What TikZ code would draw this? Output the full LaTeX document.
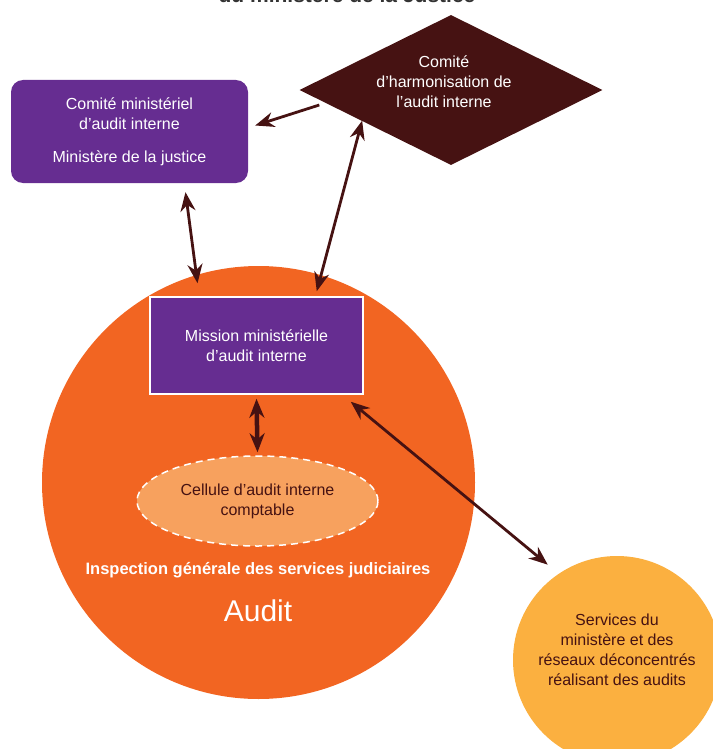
\documentclass[tikz,border=0pt]{standalone}
\usepackage{fontspec}
\setmainfont{Liberation Sans}
\usetikzlibrary{shapes.geometric,arrows.meta}
\definecolor{minpurple}{HTML}{662D91}
\definecolor{darkred}{HTML}{461212}
\definecolor{igsjorange}{HTML}{F26522}
\definecolor{cellorange}{HTML}{F7A15E}
\definecolor{servyellow}{HTML}{FBB040}
\definecolor{titlegray}{HTML}{333333}
\newcommand{\txt}{\fontsize{16}{20}\selectfont}

\begin{document}
\begin{tikzpicture}[x=1pt,y=-1pt,
	box/.style={fill=minpurple,text=white,align=center,font=\txt},
	link/.style={draw=darkred,line width=2.8pt,-{Stealth[length=19pt,width=15pt]}},
	dlink/.style={link,{Stealth[length=19pt,width=15pt]}-{Stealth[length=19pt,width=15pt]}}]
	\useasboundingbox (0,0) rectangle (712,749);
	\node[anchor=base,text=titlegray,font=\bfseries\fontsize{21}{24}\selectfont] (title) at (347,3) {du ministère de la Justice};
	% committees at the top
	\node[box,rounded corners=12pt,minimum width=237pt,minimum height=103pt] (comite) at (129.5,131.5) {Comité ministériel\\d’audit interne\\[13pt]Ministère de la justice};
	\node[diamond,fill=darkred,minimum width=303pt,minimum height=150pt,inner sep=0pt] (harmo) at (451,90) {};
	\node[text=white,align=center,font=\txt] (harmotxt) at (444,82) {Comité\\d’harmonisation de\\l’audit interne};
	% inspection
	\node[circle,fill=igsjorange,minimum size=433pt,inner sep=0pt] (igsj) at (258.5,482.5) {};
	\node[box,draw=white,line width=1.5pt,minimum width=213pt,minimum height=97pt] (mission) at (256.5,345.5) {Mission ministérielle\\d’audit interne};
	\node[ellipse,fill=cellorange,draw=white,line width=1.5pt,dash pattern=on 7pt off 5pt,minimum width=241pt,minimum height=90pt,text=darkred,align=center,font=\txt] (cellule) at (257.5,501) {Cellule d’audit interne\\comptable};
	\node[text=white,font=\bfseries\fontsize{16.5}{18}\selectfont] (igsjtxt) at (258,570) {Inspection générale des services judiciaires};
	\node[text=white,font=\fontsize{30}{34}\selectfont] (audit) at (258,611) {Audit};
	% services
	\node[circle,fill=servyellow,minimum size=208pt,inner sep=0pt] (services) at (617,660) {};
	\node[text=darkred,align=center,font=\txt] (servtxt) at (617,650) {Services du\\ministère et des\\réseaux déconcentrés\\réalisant des audits};
	% links
	\draw[link] ([shift={(20,15)}]harmo.west) -- ([shift={(7,-6)}]comite.east);
	\draw[dlink] ([shift={(56,9)}]comite.south) -- ([shift={(-59,-13)}]mission.north);
	\draw[dlink] ([shift={(-47,-5)}]mission.north east) -- ([shift={(-13,-7)}]harmo.south west);
	\draw[dlink,line width=4.5pt] ([shift={(0,4)}]mission.south) -- ([shift={(0,-3)}]cellule.north);
	\draw[dlink] ([shift={(-13,7)}]mission.south east) -- ([shift={(-8,-11)}]services.126);
\end{tikzpicture}
\end{document}
